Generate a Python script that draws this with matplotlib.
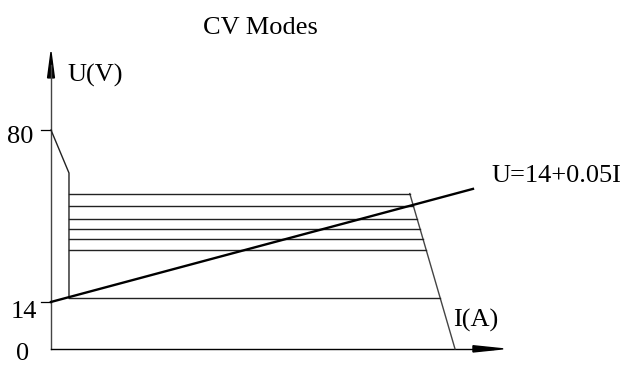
import numpy as np
import matplotlib.pyplot as plt
from matplotlib.patches import Polygon

# values (I in A, U in V)
tick_values = [0, 14, 80]
tick_labels = ["0", "14", "80"]
level_voltages = [55.6, 50.8, 46.0, 42.0, 38.0, 33.8, 15.5]
left_edge_I = [0, 37, 37]
left_edge_U = [80, 63.5, 15.5]
right_edge_I = [738, 831]
right_edge_U = [55.6, -4.0]
load_line_I = [0, 868]
load_line_U = [14, 57.4]

plt.rcParams['font.family'] = ['Liberation Serif', 'DejaVu Serif']

fig = plt.figure(figsize=(6.23, 3.65), dpi=100)
ax = fig.add_axes([0, 0, 1, 1])
ax.set_xlim(-104.9, 1176.6)
ax.set_ylim(-10.2, 129.9)
ax.axis('off')

# axes with arrow heads
x_end, y_end = 930, 109.9
axis_U = right_edge_U[-1]
ax.plot([0, 0], [axis_U, y_end - 5], color='#444444', lw=1.0)
ax.plot([0, x_end - 20], [axis_U, axis_U], color='black', lw=1.0)
ax.add_patch(Polygon([[0, y_end], [-7, 100.0], [7, 100.0]], closed=True, color='black'))
ax.add_patch(Polygon([[x_end, axis_U], [868, axis_U + 1.2], [868, axis_U - 1.2]],
                     closed=True, color='black'))

# ticks on U axis
for v in tick_values[1:]:
    ax.plot([-20, 0], [v, v], color='black', lw=0.9)

# CV envelope
ax.plot(left_edge_I, left_edge_U, color='#222222', lw=1.0)
ax.plot(right_edge_I, right_edge_U, color='#444444', lw=1.0)

# horizontal voltage levels, ending on the right slope
for u in level_voltages:
    i_end = np.interp(u, right_edge_U[::-1], right_edge_I[::-1])
    ax.plot([left_edge_I[1], i_end], [u, u], color='#222222', lw=1.0)

# load line
ax.plot(load_line_I, load_line_U, color='black', lw=1.7)

# texts
fs = 19
ax.text(430, 116.7, "CV Modes", ha='center', va='baseline', fontsize=fs)
ax.text(33, 98.4, "U(V)", ha='left', va='baseline', fontsize=fs)
ax.text(907, 60.2, "U=14+0.05I", ha='left', va='baseline', fontsize=fs)
ax.text(827, 4.4, "I(A)", ha='left', va='baseline', fontsize=fs)
ax.text(-37, 75.0, tick_labels[2], ha='right', va='baseline', fontsize=fs)
ax.text(-29, 7.9, tick_labels[1], ha='right', va='baseline', fontsize=fs)
ax.text(-57.6, -8.3, tick_labels[0], ha='center', va='baseline', fontsize=fs)

fig.savefig("out.png", dpi=100)
